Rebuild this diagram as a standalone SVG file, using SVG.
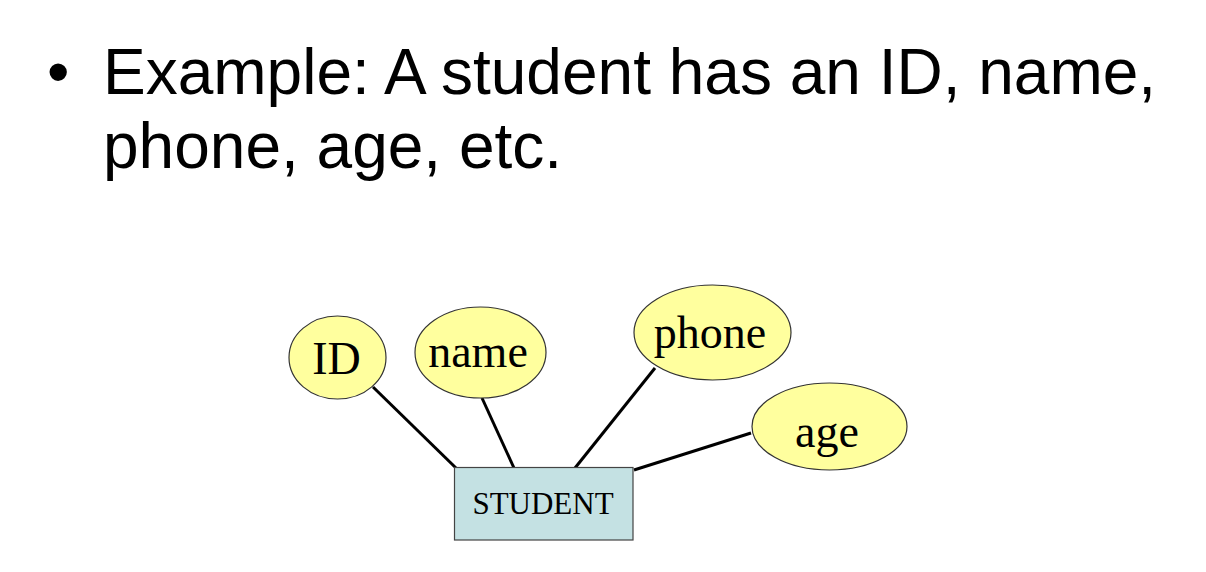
<svg xmlns="http://www.w3.org/2000/svg" width="1206" height="572" viewBox="0 0 1206 572">
<style>
.title{font-family:"Liberation Sans",Arial,sans-serif;font-size:64px;fill:#000}
.attr ellipse{fill:#FFFF9E;stroke:#333;stroke-width:1.2}
.lbl{font-family:"Liberation Serif","Times New Roman",serif;font-size:46px;fill:#000;text-anchor:middle}
.ent rect{fill:#C4E1E3;stroke:#444;stroke-width:1.2}
.ent text{font-family:"Liberation Serif","Times New Roman",serif;font-size:31px;fill:#000;text-anchor:middle}
.conn line{stroke:#000;stroke-width:3}
</style>
<rect width="1206" height="572" fill="#fff"/>
<g id="title">
<text class="title" x="47" y="94">•</text>
<text class="title" x="103" y="94">Example: A student has an ID, name,</text>
<text class="title" x="103" y="168">phone, age, etc.</text>
</g>
<g id="connectors" class="conn">
<line x1="373" y1="387" x2="456" y2="468"/>
<line x1="482" y1="398" x2="514" y2="468"/>
<line x1="655" y1="368" x2="575" y2="468"/>
<line x1="751" y1="433" x2="634" y2="470"/>
</g>
<g id="node-id" class="attr">
<ellipse cx="337.5" cy="357.5" rx="48.5" ry="41.5"/>
<text class="lbl" x="336.5" y="374">ID</text>
</g>
<g id="node-name" class="attr">
<ellipse cx="480.5" cy="352.5" rx="65.5" ry="45.5"/>
<text class="lbl" x="478" y="367">name</text>
</g>
<g id="node-phone" class="attr">
<ellipse cx="712.5" cy="332.5" rx="78.5" ry="47.5"/>
<text class="lbl" x="710" y="348">phone</text>
</g>
<g id="node-age" class="attr">
<ellipse cx="829.5" cy="426.5" rx="77.5" ry="43.5"/>
<text class="lbl" x="827" y="447">age</text>
</g>
<g id="node-student" class="ent">
<rect x="454.5" y="467.5" width="178.5" height="72.5"/>
<text x="543" y="514">STUDENT</text>
</g>
</svg>
